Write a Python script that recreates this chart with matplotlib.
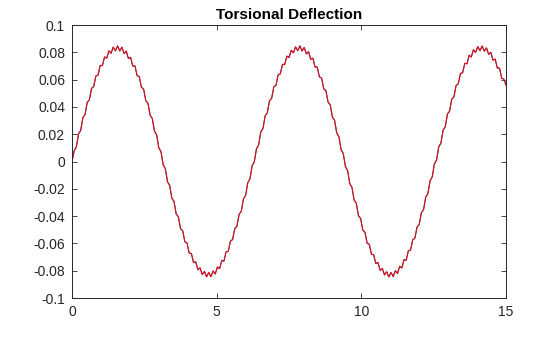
import numpy as np
import matplotlib
matplotlib.use("Agg")
import matplotlib.pyplot as plt

# torsional deflection sampled every 0.075 s from t = 0 to t = 15
deflection = [
    0.0000, 0.0079, 0.0107, 0.0202, 0.0228, 0.0321, 0.0344, 0.0433, 0.0452, 0.0536,
    0.0549, 0.0627, 0.0633, 0.0704, 0.0703, 0.0766, 0.0757, 0.0811, 0.0793, 0.0838,
    0.0811, 0.0847, 0.0810, 0.0837, 0.0791, 0.0809, 0.0754, 0.0763, 0.0699, 0.0700,
    0.0629, 0.0622, 0.0544, 0.0530, 0.0446, 0.0427, 0.0338, 0.0315, 0.0222, 0.0195,
    0.0100, 0.0072, -0.0024, -0.0052, -0.0148, -0.0175, -0.0269, -0.0293, -0.0384, -0.0405,
    -0.0491, -0.0507, -0.0588, -0.0597, -0.0671, -0.0674, -0.0740, -0.0735, -0.0793, -0.0779,
    -0.0828, -0.0805, -0.0845, -0.0813, -0.0844, -0.0802, -0.0824, -0.0773, -0.0785, -0.0726,
    -0.0730, -0.0662, -0.0658, -0.0583, -0.0572, -0.0491, -0.0474, -0.0387, -0.0365, -0.0274,
    -0.0249, -0.0155, -0.0127, -0.0031, -0.0003, 0.0093, 0.0121, 0.0216, 0.0242, 0.0334,
    0.0357, 0.0445, 0.0463, 0.0547, 0.0559, 0.0636, 0.0642, 0.0712, 0.0710, 0.0772,
    0.0762, 0.0815, 0.0796, 0.0840, 0.0812, 0.0847, 0.0809, 0.0835, 0.0788, 0.0805,
    0.0749, 0.0757, 0.0692, 0.0692, 0.0620, 0.0612, 0.0533, 0.0519, 0.0434, 0.0415,
    0.0325, 0.0301, 0.0208, 0.0182, 0.0086, 0.0058, -0.0038, -0.0066, -0.0162, -0.0189,
    -0.0282, -0.0306, -0.0397, -0.0417, -0.0503, -0.0518, -0.0598, -0.0607, -0.0680, -0.0682,
    -0.0747, -0.0741, -0.0798, -0.0783, -0.0831, -0.0807, -0.0846, -0.0813, -0.0843, -0.0800,
    -0.0820, -0.0768, -0.0780, -0.0719, -0.0723, -0.0654, -0.0649, -0.0573, -0.0562, -0.0480,
    -0.0462, -0.0375, -0.0353, -0.0261, -0.0235, -0.0141, -0.0113, -0.0017, 0.0011, 0.0107,
    0.0135, 0.0229, 0.0255, 0.0347, 0.0369, 0.0457, 0.0474, 0.0557, 0.0569, 0.0645,
    0.0650, 0.0719, 0.0716, 0.0778, 0.0766, 0.0819, 0.0799, 0.0842, 0.0812, 0.0846,
    0.0808, 0.0832, 0.0785, 0.0800, 0.0743, 0.0750, 0.0685, 0.0684, 0.0611, 0.0602,
    0.0560,
]
time = np.linspace(0, 15, len(deflection))

x_ticks = [0, 5, 10, 15]
y_ticks = [-0.1, -0.08, -0.06, -0.04, -0.02, 0, 0.02, 0.04, 0.06, 0.08, 0.1]
y_tick_labels = ["-0.1", "-0.08", "-0.06", "-0.04", "-0.02", "0",
                 "0.02", "0.04", "0.06", "0.08", "0.1"]

plt.rcParams["font.family"] = ["Liberation Sans", "DejaVu Sans"]

fig = plt.figure(figsize=(5.6, 3.37), dpi=100)
ax = fig.add_axes([0.1286, 0.1157, 0.775, 0.8101])

ax.plot(time, deflection, color="#0072BD", linewidth=0.85)
ax.plot(time, deflection, color="#FF0000", linewidth=0.75)

ax.set_xlim(0, 15)
ax.set_ylim(-0.1, 0.1)
ax.set_xticks(x_ticks)
ax.set_yticks(y_ticks)
ax.set_yticklabels(y_tick_labels)

dark = "#262626"
for side in ax.spines.values():
    side.set_color(dark)
    side.set_linewidth(0.7)
ax.tick_params(direction="in", length=3.5, width=0.6, colors=dark,
               labelsize=10, top=True, right=True, pad=5)

ax.set_title("Torsional Deflection", fontsize=11, fontweight="bold",
             color="#000000", pad=4)

fig.savefig("out.png", dpi=100)
